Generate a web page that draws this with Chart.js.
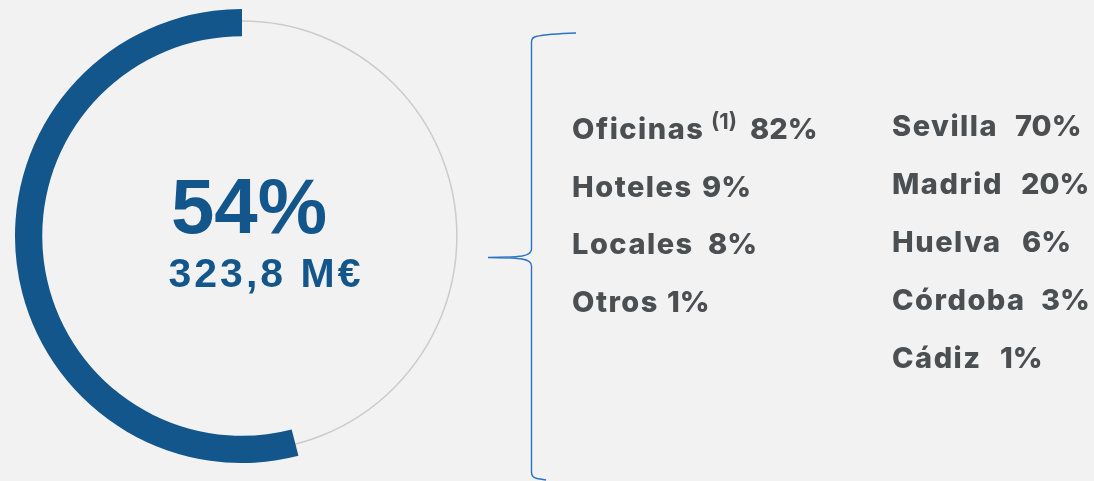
<!DOCTYPE html>
<html>
<head>
<meta charset="utf-8">
<script src="https://cdn.jsdelivr.net/npm/chart.js@4/dist/chart.umd.min.js"></script>
<style>
  html, body { margin: 0; padding: 0; background: #f2f2f2; }
  body { width: 1094px; height: 481px; position: relative; overflow: hidden; }
  #ring { position: absolute; left: 15px; top: 9px; width: 454px; height: 454px; }
  #overlay { position: absolute; left: 0; top: 0; }
  .big { font-family: "Liberation Sans", Arial, sans-serif; font-weight: 700; fill: #12568c; }
  .item { font-family: Inter, sans-serif; font-weight: 800; font-size: 29px; fill: #4b4f51; }
</style>
</head>
<body>
<div id="ring"><canvas id="donut"></canvas></div>
<svg id="overlay" width="1094" height="481"></svg>
<script>
  // share of the portfolio and the rest
  const share = 54;
  const rest = 100 - share;
  const shareLabel = '54%';
  const amountLabel = '323,8 M€';

  // breakdown by type
  const tipoLabels = ['Oficinas', 'Hoteles', 'Locales', 'Otros'];
  const tipoValues = [82, 9, 8, 1];

  // breakdown by province
  const zonaLabels = ['Sevilla', 'Madrid', 'Huelva', 'Córdoba', 'Cádiz'];
  const zonaValues = [70, 20, 6, 3, 1];

  // layout of the text columns (x of the value, baselines)
  const tipoValueX = [750, 702, 708, 667];
  const zonaValueX = [1015, 1021, 1022, 1041, 1000];
  const tipoBase = [139, 196.5, 254, 311.5];
  const zonaBase = [136, 194, 252, 310, 368];

  const track = {
    id: 'track',
    beforeDatasetsDraw(chart) {
      const arc = chart.getDatasetMeta(0).data[0];
      if (!arc) return;
      const ctx = chart.ctx;
      const r = (arc.outerRadius + arc.innerRadius) / 2 + 1.5;
      ctx.save();
      ctx.beginPath();
      ctx.arc(arc.x, arc.y, r, 0, Math.PI * 2);
      ctx.strokeStyle = '#cbcbcb';
      ctx.lineWidth = 1.5;
      ctx.stroke();
      ctx.restore();
    }
  };

  new Chart(document.getElementById('donut'), {
    type: 'doughnut',
    data: {
      labels: ['Resto', 'Sevilla y otras'],
      datasets: [{
        data: [rest, share],
        backgroundColor: ['rgba(0,0,0,0)', '#12568c'],
        borderWidth: 0,
        hoverOffset: 0
      }]
    },
    options: {
      responsive: true,
      maintainAspectRatio: false,
      animation: false,
      cutout: '88%',
      rotation: 0,
      layout: { padding: 0 },
      plugins: { legend: { display: false }, tooltip: { enabled: false } },
      events: []
    },
    plugins: [track]
  });

  const NS = 'http://www.w3.org/2000/svg';
  const svg = document.getElementById('overlay');
  function addText(str, x, y, cls, style) {
    const t = document.createElementNS(NS, 'text');
    t.setAttribute('x', x);
    t.setAttribute('y', y);
    if (cls) t.setAttribute('class', cls);
    if (style) t.setAttribute('style', style);
    t.textContent = str;
    svg.appendChild(t);
    return t;
  }

  // centre figures
  addText(shareLabel, 249, 233, 'big', 'font-size:78px;text-anchor:middle');
  addText(amountLabel, 266, 287, 'big', 'font-size:41px;text-anchor:middle;letter-spacing:3px');

  // brace
  const brace = document.createElementNS(NS, 'path');
  brace.setAttribute('d', 'M576,33 C560,33.5 545,34.5 536,36.5 Q531.5,37.5 531.5,42 L531.5,249 Q531.5,254.5 522,256 Q510,257.5 488,257.5 Q510,257.5 522,259 Q531.5,260.5 531.5,266 L531.5,472 Q531.5,477.5 537,478.5 L546,480');
  brace.setAttribute('fill', 'none');
  brace.setAttribute('stroke', '#2a73c4');
  brace.setAttribute('stroke-width', 1.4);
  svg.appendChild(brace);

  tipoLabels.forEach((name, i) => {
    addText(name, 572, tipoBase[i], 'item', 'letter-spacing:1.5px');
    addText(tipoValues[i] + '%', tipoValueX[i], tipoBase[i], 'item');
  });
  addText('(1)', 711, 129, 'item', 'font-size:22px;font-weight:700');

  zonaLabels.forEach((name, i) => {
    addText(name, 892, zonaBase[i], 'item', 'letter-spacing:1.5px');
    addText(zonaValues[i] + '%', zonaValueX[i], zonaBase[i], 'item');
  });
</script>
</body>
</html>
